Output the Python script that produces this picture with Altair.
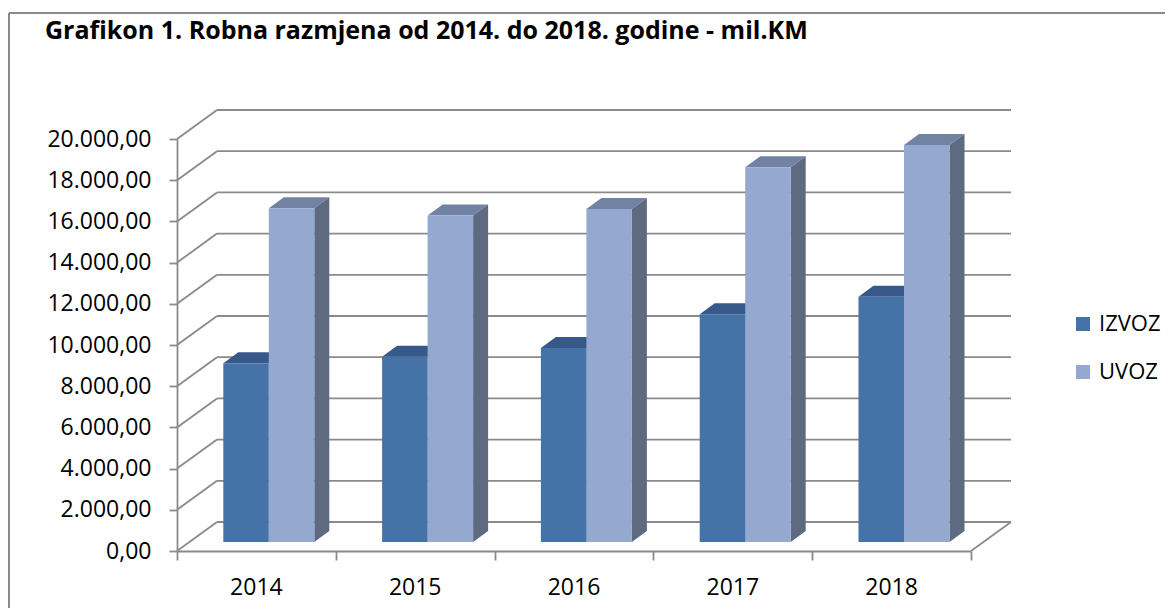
import altair as alt
import pandas as pd

TITLE = "Grafikon 1. Robna razmjena od 2014. do 2018. godine - mil.KM"
years = ["2014", "2015", "2016", "2017", "2018"]
series = ["IZVOZ", "UVOZ"]
izvoz = [8680, 8990, 9420, 11050, 11900]
uvoz = [16200, 15850, 16160, 18190, 19270]
y_ticks = [0, 2000, 4000, 6000, 8000, 10000, 12000, 14000, 16000, 18000, 20000]

front_colors = ["#4572A7", "#95A9D0"]
top_colors = ["#36598A", "#7282A3"]
side_colors = ["#2F4B70", "#5D6A80"]
GRID = "#8a8a8a"
FONT = "Open Sans"

# geometry (pixels of the plot area -> data units)
W, H = 794, 412
XMAX, YMAX = 5, 20000
px_x = XMAX / W
px_y = YMAX / H
WALL_DX, WALL_DY = 40 * px_x, 29 * px_y
BAR_DX, BAR_DY = 15 * px_x, 11 * px_y
SHIFT_X, SHIFT_Y = 12.4 * px_x, 9 * px_y
BAR_W = 45.5 * px_x

front_rows, face_rows = [], []
for i, yr in enumerate(years):
    c = i + 0.5 + SHIFT_X
    for s, vals in enumerate((izvoz, uvoz)):
        v = vals[i]
        xl = c - BAR_W if s == 0 else c
        xr = xl + BAR_W
        base = SHIFT_Y
        top = base + v
        front_rows.append({"year": yr, "series": series[s], "value": v,
                           "x": xl, "x2": xr, "y": top, "y2": base})
        bid = f"{yr}-{series[s]}"
        for (px, yt, yb) in [(xl, top, top), (xl + BAR_DX, top + BAR_DY, top),
                             (xr, top + BAR_DY, top), (xr + BAR_DX, top + BAR_DY, top + BAR_DY)]:
            face_rows.append({"id": "t" + bid, "x": px, "yt": yt, "yb": yb, "c": top_colors[s]})
        for (px, yt, yb) in [(xr, top, base), (xr + BAR_DX, top + BAR_DY, base + BAR_DY)]:
            face_rows.append({"id": "s" + bid, "x": px, "yt": yt, "yb": yb, "c": side_colors[s]})

df_front = pd.DataFrame(front_rows)
df_faces = pd.DataFrame(face_rows)

label_expr = "replace(replace(replace(format(datum.value, ',.2f'), ',', '#'), '.', ','), '#', '.')"

xscale = alt.Scale(domain=[0, XMAX], nice=False, zero=False)
yscale = alt.Scale(domain=[0, YMAX], nice=False)
xaxis = alt.Axis(values=[0, 1, 2, 3, 4, 5], labels=False, tickSize=9,
                 tickColor=GRID, domainColor=GRID, tickWidth=1.8, domainWidth=1.8, grid=False)
yaxis = alt.Axis(values=y_ticks, labelExpr=label_expr, tickSize=8,
                 tickColor=GRID, domainColor=GRID, tickWidth=1.8, domainWidth=1.8,
                 grid=False, labelFont=FONT, labelFontSize=23, labelColor="black",
                 labelPadding=18)


def X(field):
    return alt.X(field, scale=xscale, axis=xaxis, title=None)


def Y(field):
    return alt.Y(field, scale=yscale, axis=yaxis, title=None)


df_grid = pd.DataFrame({"g": y_ticks})
df_grid["x1"] = WALL_DX
df_grid["x2"] = XMAX + WALL_DX
df_grid["yb"] = df_grid["g"] + WALL_DY
df_grid["x0"] = 0.0

back_lines = alt.Chart(df_grid).mark_rule(color=GRID, strokeWidth=1.8).encode(
    x=X("x1:Q"), x2="x2:Q", y=Y("yb:Q"))
diag_lines = alt.Chart(df_grid).mark_rule(color=GRID, strokeWidth=1.8).encode(
    x=X("x0:Q"), x2="x1:Q", y=Y("g:Q"), y2="yb:Q")
df_floor = pd.DataFrame({"x": [XMAX], "x2": [XMAX + WALL_DX], "y": [0.0], "y2": [WALL_DY]})
floor_edge = alt.Chart(df_floor).mark_rule(color=GRID, strokeWidth=1.8).encode(
    x=X("x:Q"), x2="x2:Q", y=Y("y:Q"), y2="y2:Q")

faces = alt.Chart(df_faces).mark_area(interpolate="linear").encode(
    x=X("x:Q"), y=Y("yt:Q"), y2="yb:Q",
    detail="id:N",
    color=alt.Color("c:N", scale=None))

fronts = alt.Chart(df_front).mark_rect().encode(
    x=X("x:Q"), x2="x2:Q", y=Y("y:Q"), y2="y2:Q",
    color=alt.Color("series:N", scale=alt.Scale(domain=series, range=front_colors),
                    legend=alt.Legend(title=None, orient="none", legendX=895, legendY=174,
                                      symbolType="square", symbolSize=196, symbolStrokeWidth=0,
                                      labelFont=FONT, labelFontSize=22, labelColor="black",
                                      labelOffset=5, rowPadding=26, padding=0)))

df_years = pd.DataFrame({"year": years, "x": [i + 0.5 for i in range(len(years))]})
year_text = alt.Chart(df_years).mark_text(font=FONT, fontSize=23, color="black",
                                          align="center", baseline="alphabetic").encode(
    x=X("x:Q"), y=alt.value(456), text="year:N")

df_title = pd.DataFrame({"t": [TITLE]})
title_text = alt.Chart(df_title).mark_text(font=FONT, fontSize=25, fontWeight="bold",
                                           color="black", align="left",
                                           baseline="alphabetic").encode(
    x=alt.value(-132), y=alt.value(-100), text="t:N")

df_one = pd.DataFrame({"a": [0]})
border_left = alt.Chart(df_one).mark_rule(color="#8a8a8a", strokeWidth=2).encode(
    x=alt.value(-168), y=alt.value(-126), y2=alt.value(470))
border_top = alt.Chart(df_one).mark_rule(color="#8a8a8a", strokeWidth=2).encode(
    x=alt.value(-168), x2=alt.value(990), y=alt.value(-126))

chart = alt.layer(
    border_left, border_top, back_lines, diag_lines, floor_edge, faces, fronts,
    year_text, title_text
).resolve_scale(color="independent").properties(
    width=W, height=H,
    autosize=alt.AutoSizeParams(type="none"),
    padding={"left": 169, "top": 131, "right": 194, "bottom": 57},
).configure_view(stroke=None)

chart.save("out.html", embed_options={"renderer": "svg", "actions": False})
